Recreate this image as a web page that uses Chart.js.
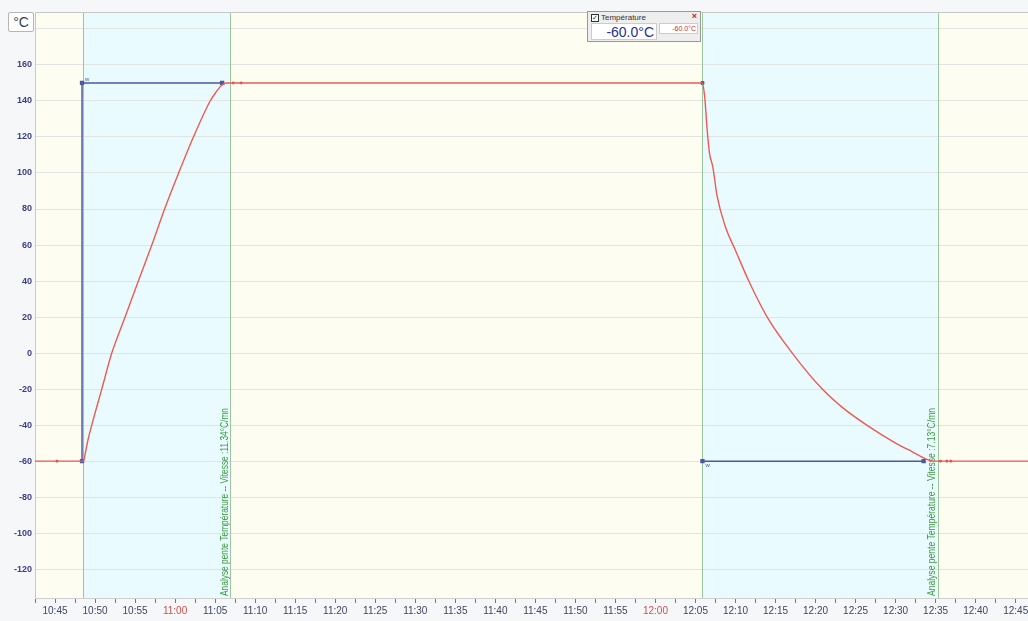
<!DOCTYPE html>
<html lang="fr">
<head>
  <meta charset="UTF-8">
  <title>Température</title>
  <script src="https://cdn.jsdelivr.net/npm/chart.js"></script>
  <style>
    html, body {
      margin: 0;
      overflow: hidden;
      background: #f6f7f9;
      font-family: "Liberation Sans", Arial, sans-serif;
    }
    #wrap {
      position: relative;
      width: 1034px;
      height: 621px;
    }
    canvas { display: block; }
    #unit {
      position: absolute;
      left: 8px; top: 12px;
      width: 24px; height: 18px;
      background: #fff;
      border: 1px solid #b5b5b5;
      border-radius: 2px;
      font-size: 14px;
      line-height: 18px;
      text-align: center;
      color: #33405a;
    }
    #probe {
      position: absolute;
      left: 587px; top: 11px;
      width: 114px; height: 31px;
      background: #eeeeee;
      border: 1px solid #999;
      box-sizing: border-box;
    }
    #probe .head { position: absolute; left: 3px; top: 0; font-size: 8px; color: #333; line-height: 11px; }
    #probe .head span { display: inline-block; width: 6px; height: 6px; border: 1px solid #333; margin-right: 2px; font-size: 7px; line-height: 6px; text-align: center; background: #fff; }
    #probe .x { position: absolute; right: 3px; top: -1px; color: #d02020; font-size: 9px; font-weight: bold; }
    #probe .big { position: absolute; left: 3px; top: 11px; width: 66px; height: 17px; background: #fff; border: 1px solid #ccc; box-sizing: border-box;
      color: #2a2e9a; font-size: 14px; line-height: 16px; text-align: right; padding-right: 2px; }
    #probe .small { position: absolute; left: 71px; top: 11px; width: 39px; height: 11px; background: #fff; border: 1px solid #ccc; box-sizing: border-box;
      color: #c03030; font-size: 7px; line-height: 9px; text-align: right; padding-right: 1px; }
  </style>
</head>
<body>
  <div id="wrap">
    <canvas id="tempChart"></canvas>
    <div id="unit">°C</div>
    <div id="probe">
      <div class="head"><span>✓</span>Température</div>
      <div class="x">×</div>
      <div class="big">-60.0°C</div>
      <div class="small">-60.0°C</div>
    </div>
  </div>

  <script>
    // times in minutes since midnight (10:45 = 645)
    const tempTimes = [642.5, 648.54, 648.81, 649.13, 649.59, 650.84, 652.09, 653.75, 655.41, 657.09, 658.69,
      660.44, 662.29, 664.38, 665.13, 665.75, 666.38,
      725.84, 726.16, 726.46, 726.75, 727.16, 727.71, 728.75, 730.0, 731.66, 733.96, 737.09,
      740.84, 743.3, 746.4, 750.0, 752.09, 754.16, 754.79, 766.6];
    const tempValues = [-60, -60, -55, -48, -40, -20, 0, 20, 40, 60, 80,
      100, 120, 140, 145, 148.5, 150,
      150, 142, 124, 111, 103.5, 87, 70, 57, 40, 20, 0,
      -20, -30, -40, -50, -54.8, -59.4, -60, -60];

    const setpoint1Times = [648.375, 648.375, 665.875];
    const setpoint1Values = [-60, 150, 150];
    const setpoint2Times = [725.875, 753.5];
    const setpoint2Values = [-60, -60];
    const setpointMarkTimes = [725.875];
    const setpointMarkValues = [150];

    const redMarkTimes = [645.25, 667.25, 668.25, 755.6, 756.4, 756.9];
    const redMarkValues = [-60, 150, 150, -60, -60, -60];

    const bandStarts = [648.5, 725.875];
    const bandEnds = [666.875, 755.25];
    const slopeLabels = ["Analyse pente Température -- Vitesse :11.34°C/mn", "Analyse pente Température -- Vitesse :7.13°C/mn"];

    const yTicks = [-120, -100, -80, -60, -40, -20, 0, 20, 40, 60, 80, 100, 120, 140, 160, 180];

    const pts = (xs, ys) => xs.map((x, i) => ({ x: x, y: ys[i] }));

    const fmtTime = v => {
      const h = Math.floor(v / 60), m = Math.round(v % 60);
      return h + ":" + String(m).padStart(2, "0");
    };

    const bgPlugin = {
      id: "bg",
      beforeDraw(chart) {
        const { ctx, chartArea: a, scales: { x } } = chart;
        ctx.save();
        ctx.fillStyle = "#fdfdf2";
        ctx.fillRect(a.left, a.top, a.width, a.height);
        ctx.fillStyle = "#e9fbff";
        bandStarts.forEach((s, i) => {
          const x0 = x.getPixelForValue(s), x1 = x.getPixelForValue(bandEnds[i]);
          ctx.fillRect(x0, a.top, x1 - x0, a.height);
        });
        ctx.restore();
      },
      beforeDatasetsDraw(chart) {
        const { ctx, chartArea: a, scales: { x } } = chart;
        ctx.save();
        ctx.strokeStyle = "#9cc79c";
        ctx.lineWidth = 1;
        [...bandStarts, ...bandEnds].forEach(v => {
          const px = Math.round(x.getPixelForValue(v)) + 0.5;
          ctx.beginPath();
          ctx.moveTo(px, a.top);
          ctx.lineTo(px, a.bottom);
          ctx.stroke();
        });
        ctx.fillStyle = "#3d9a3d";
        ctx.font = "10px 'Liberation Sans'";
        ctx.textAlign = "left";
        ctx.textBaseline = "middle";
        bandEnds.forEach((v, i) => {
          ctx.save();
          ctx.translate(x.getPixelForValue(v) - 5, a.bottom - 2);
          ctx.rotate(-Math.PI / 2);
          ctx.fillText(slopeLabels[i], 0, 0, 188);
          ctx.restore();
        });
        // plot frame (top / left)
        ctx.strokeStyle = "#c8c8c8";
        ctx.beginPath();
        ctx.moveTo(a.left + 0.5, a.bottom);
        ctx.lineTo(a.left + 0.5, a.top + 0.5);
        ctx.lineTo(a.right, a.top + 0.5);
        ctx.stroke();
        ctx.restore();
      },
      afterDatasetsDraw(chart) {
        const { ctx, scales: { x, y } } = chart;
        ctx.save();
        ctx.fillStyle = "#4a5aa0";
        ctx.font = "6px 'Liberation Sans'";
        ctx.fillText("w", x.getPixelForValue(setpoint1Times[1]) + 3, y.getPixelForValue(setpoint1Values[1]) - 2);
        ctx.fillText("w", x.getPixelForValue(setpoint2Times[0]) + 3, y.getPixelForValue(setpoint2Values[0]) + 6);
        ctx.restore();
      }
    };

    const ctx = document.getElementById("tempChart").getContext("2d");
    new Chart(ctx, {
      type: "line",
      data: {
        datasets: [
          {
            label: "Température",
            data: pts(tempTimes, tempValues),
            borderColor: "#ee5a50",
            borderWidth: 1.4,
            pointRadius: 0,
            cubicInterpolationMode: "monotone"
          },
          {
            label: "Consigne 1",
            data: pts(setpoint1Times, setpoint1Values),
            borderColor: "#4a5aa0",
            backgroundColor: "#4a5aa0",
            borderWidth: 1.5,
            pointRadius: 2,
            pointStyle: "rect",
            tension: 0
          },
          {
            label: "Consigne 2",
            data: pts(setpoint2Times, setpoint2Values),
            borderColor: "#4a5aa0",
            backgroundColor: "#4a5aa0",
            borderWidth: 1.5,
            pointRadius: 2,
            pointStyle: "rect",
            tension: 0
          },
          {
            label: "Consigne marque",
            data: pts(setpointMarkTimes, setpointMarkValues),
            showLine: false,
            borderColor: "#4a5aa0",
            backgroundColor: "#4a5aa0",
            pointRadius: 2,
            pointStyle: "rect"
          },
          {
            label: "Repères",
            data: pts(redMarkTimes, redMarkValues),
            showLine: false,
            borderColor: "#d84040",
            backgroundColor: "#d84040",
            pointRadius: 1.2,
            pointStyle: "rect"
          }
        ]
      },
      options: {
        responsive: true,
        maintainAspectRatio: false,
        animation: false,
        layout: { padding: { top: 12, right: 1, left: 0, bottom: 0 } },
        plugins: {
          legend: { display: false },
          tooltip: { enabled: false }
        },
        scales: {
          x: {
            type: "linear",
            min: 642.5,
            max: 766.6,
            afterBuildTicks: s => {
              const t = [];
              for (let v = 642.5; v <= 766.6; v += 2.5) t.push({ value: v });
              s.ticks = t;
            },
            afterFit: s => { s.height = 23; s.paddingLeft = 0; s.paddingRight = 0; },
            border: { color: "#d0d0d0" },
            grid: {
              drawOnChartArea: false,
              tickLength: 5,
              tickColor: "#777"
            },
            ticks: {
              autoSkip: false,
              maxRotation: 0,
              padding: 2,
              font: { family: "Liberation Sans", size: 10 },
              color: c => (c.tick && (c.tick.value === 660 || c.tick.value === 720)) ? "#d0504a" : "#3e4560",
              callback: v => (v % 5 === 0 ? fmtTime(v) : "")
            }
          },
          y: {
            min: -136,
            max: 189.4,
            afterBuildTicks: s => { s.ticks = yTicks.map(v => ({ value: v })); },
            afterFit: s => { s.width = 35; },
            border: { display: false },
            grid: {
              color: "#e2e4e2",
              drawTicks: false
            },
            ticks: {
              padding: 3,
              font: { family: "Liberation Sans", size: 9, weight: "bold" },
              color: "#3b3f80",
              callback: v => (v === 180 ? "" : v)
            }
          }
        }
      },
      plugins: [bgPlugin]
    });
  </script>
</body>
</html>
